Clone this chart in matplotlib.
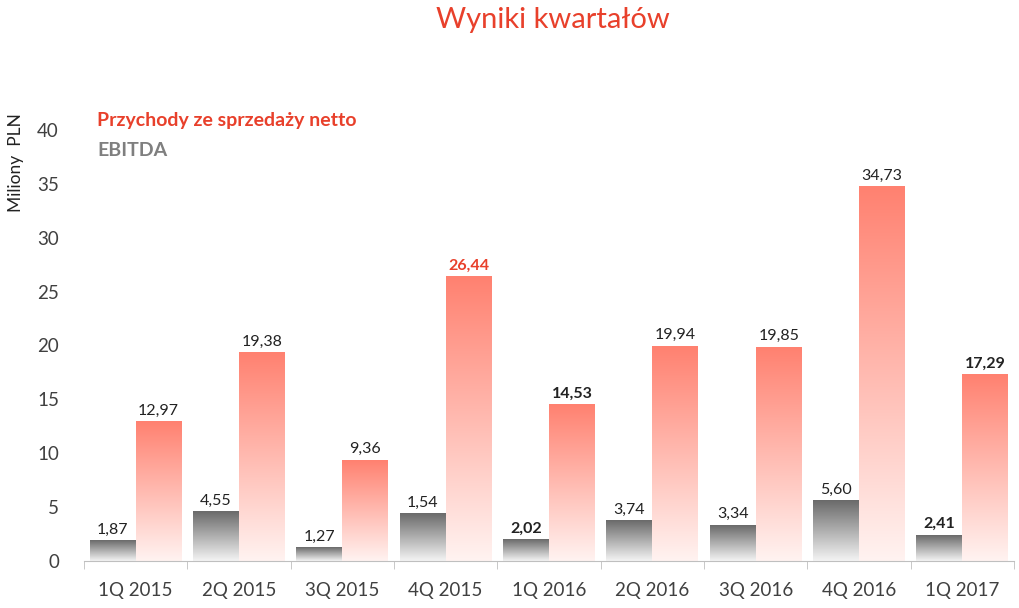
import numpy as np
import matplotlib
matplotlib.use("Agg")
from matplotlib import pyplot as plt
from matplotlib.colors import LinearSegmentedColormap

quarters = ["1Q 2015", "2Q 2015", "3Q 2015", "4Q 2015", "1Q 2016",
            "2Q 2016", "3Q 2016", "4Q 2016", "1Q 2017"]
revenue = [12.97, 19.38, 9.36, 26.44, 14.53, 19.94, 19.85, 34.73, 17.29]
# bar heights as drawn in the source (4Q 2015 bar is taller than its label)
ebitda = [1.87, 4.55, 1.27, 4.40, 2.02, 3.74, 3.34, 5.60, 2.41]
revenue_labels = ["12,97", "19,38", "9,36", "26,44", "14,53", "19,94", "19,85", "34,73", "17,29"]
ebitda_labels = ["1,87", "4,55", "1,27", "1,54", "2,02", "3,74", "3,34", "5,60", "2,41"]
# label style per bar: normal / bold / red bold
revenue_style = ["n", "n", "n", "r", "b", "n", "n", "n", "b"]
ebitda_style = ["n", "n", "n", "n", "b", "n", "n", "n", "b"]

plt.rcParams['font.family'] = ['Lato', 'DejaVu Sans']

RED = "#e8402b"
GRAY = "#7f7f7f"
red_cmap = LinearSegmentedColormap.from_list("r", ["#fff3f1", "#ff8170"])
gray_cmap = LinearSegmentedColormap.from_list("g", ["#f4f4f4", "#6a6a6a"])

fig = plt.figure(figsize=(10.2, 6.08), dpi=100)
ax = fig.add_axes([84 / 1020, 47 / 608, 930 / 1020, 431 / 608])

n = len(quarters)
x = np.arange(n)
w = 0.445
grad = np.linspace(0, 1, 256).reshape(-1, 1)


def grad_bar(x0, h, cmap):
    ax.imshow(grad, extent=[x0, x0 + w, 0, h], origin="lower", aspect="auto",
              cmap=cmap, zorder=2)


def label(xc, h, txt, style):
    kw = dict(ha="center", va="bottom", fontsize=11.5, color="#222222")
    if style == "b":
        kw["fontweight"] = "bold"
    elif style == "r":
        kw["fontweight"] = "bold"
        kw["color"] = RED
    ax.text(xc, h + 0.35, txt, **kw)


for i in range(n):
    x_e = x[i] - w
    x_r = x[i]
    grad_bar(x_e, ebitda[i], gray_cmap)
    grad_bar(x_r, revenue[i], red_cmap)
    label(x_e + w / 2, ebitda[i], ebitda_labels[i], ebitda_style[i])
    label(x_r + w / 2, revenue[i], revenue_labels[i], revenue_style[i])

ax.set_xlim(-0.5, n - 0.5)
ax.set_ylim(0, 40)
ax.set_yticks(range(0, 41, 5))
ax.set_xticks(x)
ax.set_xticklabels(quarters)
ax.set_xticks(np.arange(-0.5, n, 1), minor=True)
ax.tick_params(axis="x", which="major", length=0, pad=15, labelsize=13.5, labelcolor="#404040")
ax.tick_params(axis="x", which="minor", length=6, color="#bfbfbf", direction="out")
ax.tick_params(axis="y", length=0, pad=18, labelsize=13.5, labelcolor="#404040")
for s in ["top", "right", "left"]:
    ax.spines[s].set_visible(False)
ax.spines["bottom"].set_color("#bfbfbf")
ax.spines["bottom"].set_zorder(3)

fig.text(16 / 1020, 1 - 163 / 608, "Miliony  PLN", rotation=90, ha="center", va="center",
         fontsize=12.5, color="#222222")
fig.text(97 / 1020, 1 - 120 / 608, "Przychody ze sprzedaży netto", ha="left", va="center",
         fontsize=14, fontweight="bold", color=RED)
fig.text(97 / 1020, 1 - 150 / 608, "EBITDA", ha="left", va="center",
         fontsize=14, fontweight="bold", color=GRAY)
fig.text(553 / 1020, 1 - 20 / 608, "Wyniki kwartałów", ha="center", va="center",
         fontsize=21, fontweight="normal", color=RED)

fig.savefig("out.png", dpi=100)
